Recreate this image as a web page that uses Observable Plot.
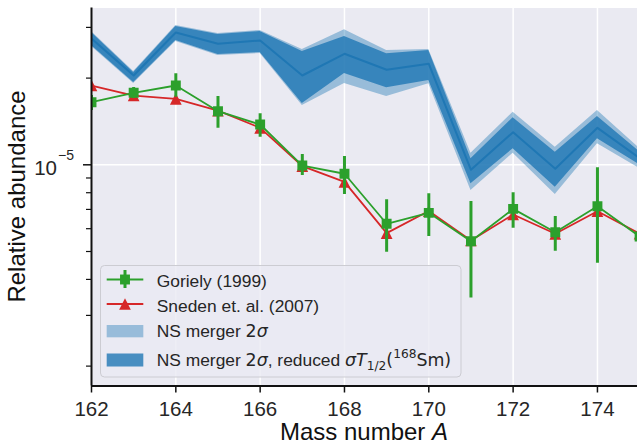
<!DOCTYPE html>
<html>
<head>
<meta charset="utf-8">
<script src="https://cdn.jsdelivr.net/npm/d3@7"></script>
<script src="https://cdn.jsdelivr.net/npm/@observablehq/plot@0.6"></script>
<style>
  body { margin: 0; background: #fff; }
  #chart { width: 637px; height: 445px; }
</style>
</head>
<body>
<div id="chart"></div>
<script>
// Mass numbers A
const massNumbers = [162, 163, 164, 165, 166, 167, 168, 169, 170, 171, 172, 173, 174, 175];

// NS merger prediction (units of 1e-5): central line, reduced-uncertainty band, full 2-sigma band
const nsCentre    = [2.745, 2.042, 2.880, 2.631, 2.702, 2.042, 2.429, 2.138, 2.242, 0.961, 1.298, 0.969, 1.344, 1.055];
const nsInnerHigh = [2.880, 2.092, 3.021, 2.835, 2.903, 2.474, 2.790, 2.429, 2.494, 1.049, 1.456, 1.106, 1.472, 1.110];
const nsInnerLow  = [2.596, 1.931, 2.702, 2.415, 2.455, 1.633, 2.075, 1.851, 1.962, 0.859, 1.137, 0.836, 1.231, 1.000];
const nsOuterHigh = [2.903, 2.108, 3.045, 2.858, 2.927, 2.514, 2.943, 2.494, 2.514, 1.097, 1.522, 1.151, 1.543, 1.140];
const nsOuterLow  = [2.575, 1.916, 2.680, 2.396, 2.435, 1.607, 1.916, 1.727, 1.911, 0.814, 1.097, 0.789, 1.183, 0.970];

// Goriely (1999) with error range (units of 1e-5)
const gorielyValue = [1.650, 1.778, 1.885, 1.535, 1.380, 0.994, 0.931, 0.624, 0.681, 0.543, 0.703, 0.583, 0.718, 0.564];
const gorielyHigh  = [1.740, 1.855, 2.070, 1.727, 1.503, 1.086, 1.069, 0.756, 0.793, 0.746, 0.799, 0.661, 0.976, 0.600];
const gorielyLow   = [1.543, 1.699, 1.717, 1.340, 1.247, 0.918, 0.789, 0.497, 0.564, 0.345, 0.602, 0.501, 0.455, 0.530];

// Sneden et al. (2007) (units of 1e-5)
const snedenValue = [1.885, 1.740, 1.695, 1.543, 1.344, 0.989, 0.872, 0.579, 0.691, 0.546, 0.672, 0.576, 0.690, 0.577];

// Axis ticks
const xTicks = [162, 164, 166, 168, 170, 172, 174];
const yMajorTicks = [1e-5];
const yMinorTicks = [2e-6, 3e-6, 4e-6, 5e-6, 6e-6, 7e-6, 8e-6, 9e-6, 2e-5, 3e-5];

const UNIT = 1e-5;
const FONT = "'Liberation Sans', Arial, sans-serif";
const MATH_FONT = "'DejaVu Sans', sans-serif";
const BLUE = "#1f77b4", GREEN = "#2ca02c", RED = "#d62728", INK = "#262626";
const X_DOMAIN = [162, 174.95];
const Y_DOMAIN = [1.706e-6, 3.503e-5];
const SQUARE_R = 5.6, TRIANGLE_R = 6.6;

const ns = massNumbers.map((A, i) => ({
  A,
  mid: nsCentre[i] * UNIT,
  innerLo: nsInnerLow[i] * UNIT, innerHi: nsInnerHigh[i] * UNIT,
  outerLo: nsOuterLow[i] * UNIT, outerHi: nsOuterHigh[i] * UNIT
}));
const goriely = massNumbers.map((A, i) => ({
  A, v: gorielyValue[i] * UNIT, lo: gorielyLow[i] * UNIT, hi: gorielyHigh[i] * UNIT
}));
const sneden = massNumbers.map((A, i) => ({A, v: snedenValue[i] * UNIT}));

// Upward triangle whose width equals its height, centred on its bounding box
const triangleUp = {
  draw(context, size) {
    const s = Math.sqrt(size) / 2;
    context.moveTo(0, -s);
    context.lineTo(s, s);
    context.lineTo(-s, s);
    context.closePath();
  }
};

const chart = Plot.plot({
  width: 637,
  height: 445,
  marginLeft: 91,
  marginRight: 0,
  marginTop: 7.5,
  marginBottom: 59.5,
  style: {fontFamily: FONT, background: "#fff"},
  x: {domain: X_DOMAIN},
  y: {type: "log", domain: Y_DOMAIN},
  marks: [
    Plot.frame({fill: "#EAEAF2", stroke: "none"}),
    Plot.gridX(xTicks, {stroke: "#fff", strokeOpacity: 1, strokeWidth: 1.5}),
    Plot.gridY(yMajorTicks, {stroke: "#fff", strokeOpacity: 1, strokeWidth: 1.5}),

    // NS merger bands and central line
    Plot.areaY(ns, {x: "A", y1: "outerLo", y2: "outerHi", fill: BLUE, fillOpacity: 0.4, clip: true}),
    Plot.areaY(ns, {x: "A", y1: "innerLo", y2: "innerHi", fill: BLUE, fillOpacity: 0.8, clip: true}),
    Plot.lineY(ns, {x: "A", y: "mid", stroke: BLUE, strokeWidth: 2, clip: true}),

    // Sneden et al.
    Plot.lineY(sneden, {x: "A", y: "v", stroke: RED, strokeWidth: 1.8, clip: true}),
    Plot.dot(sneden, {x: "A", y: "v", symbol: triangleUp, r: TRIANGLE_R, fill: RED, stroke: "none", clip: true}),

    // Goriely with error bars
    Plot.ruleX(goriely, {x: "A", y1: "lo", y2: "hi", stroke: GREEN, strokeWidth: 3, clip: true}),
    Plot.lineY(goriely, {x: "A", y: "v", stroke: GREEN, strokeWidth: 1.8, clip: true}),
    Plot.dot(goriely, {x: "A", y: "v", symbol: "square", r: SQUARE_R, fill: GREEN, stroke: "none", clip: true}),

    // Axes
    Plot.axisX(xTicks, {tickSize: 7, tickPadding: 8, fontSize: 20.5, stroke: "#111", strokeWidth: 1.5, fill: INK, label: null}),
    Plot.axisY(yMajorTicks, {tickSize: 8, strokeWidth: 1.5, stroke: "#111", tickFormat: () => "", label: null}),
    Plot.axisY(yMinorTicks, {tickSize: 5, strokeWidth: 1.2, stroke: "#111", tickFormat: () => "", label: null}),
    Plot.ruleX([X_DOMAIN[0]], {stroke: "#111", strokeWidth: 2}),
    Plot.ruleY([Y_DOMAIN[0]], {stroke: "#111", strokeWidth: 2})
  ]
});

document.getElementById("chart").appendChild(chart);

const svg = d3.select(chart);
const yScale = chart.scale("y");
const xScale = chart.scale("x");

function textGroup(size, fill) {
  return svg.append("g")
    .style("font-family", FONT)
    .style("font-size", size + "px")
    .attr("fill", fill)
    .attr("text-anchor", "start");
}
function mathSpan(parent, text, opts = {}) {
  const s = parent.append("tspan").style("font-family", MATH_FONT).text(text);
  if (opts.italic) s.style("font-style", "oblique");
  if (opts.size) s.style("font-size", opts.size + "px");
  if (opts.dy) s.attr("dy", opts.dy);
  return s;
}

// Power-of-ten tick label
const yMajor = yScale.apply(yMajorTicks[0]);
const tickLabel = textGroup(20.5, INK);
tickLabel.append("text").attr("x", 57).attr("y", yMajor + 10.7)
  .attr("text-anchor", "end").text("10");
tickLabel.append("text").attr("x", 58).attr("y", yMajor - 4.3)
  .style("font-size", "14px").text("\u22125");

// Axis titles
const xMid = (xScale.range[0] + xScale.range[1]) / 2;
const yMid = (yScale.range[0] + yScale.range[1]) / 2;
const titles = textGroup(24, "#111");
const xTitle = titles.append("text").attr("text-anchor", "middle").attr("x", xMid).attr("y", 440);
xTitle.append("tspan").text("Mass number ");
xTitle.append("tspan").attr("font-style", "italic").text("A");
titles.append("text").attr("text-anchor", "middle")
  .attr("transform", `translate(25,${yMid}) rotate(-90)`)
  .text("Relative abundance");

// Legend
const lg = textGroup(17.4, INK);
lg.append("rect").attr("x", 100.5).attr("y", 265.5).attr("width", 360.5).attr("height", 111.5)
  .attr("rx", 4).attr("fill", "#EAEAF2").attr("fill-opacity", 0.8)
  .attr("stroke", "#CCCCD2").attr("stroke-width", 1);

const swX0 = 106.7, swX1 = 143.3, swMid = (swX0 + swX1) / 2, textX = 156.7;

// Goriely entry
lg.append("line").attr("x1", swX0).attr("x2", swX1).attr("y1", 279.5).attr("y2", 279.5)
  .attr("stroke", GREEN).attr("stroke-width", 1.8);
lg.append("line").attr("x1", swMid).attr("x2", swMid).attr("y1", 270).attr("y2", 288)
  .attr("stroke", GREEN).attr("stroke-width", 3);
lg.append("path").attr("transform", `translate(${swMid},279.5)`)
  .attr("d", d3.symbol(d3.symbolSquare, Math.PI * SQUARE_R * SQUARE_R)()).attr("fill", GREEN);
lg.append("text").attr("x", textX).attr("y", 287.3).text("Goriely (1999)");

// Sneden entry
lg.append("line").attr("x1", swX0).attr("x2", swX1).attr("y1", 304).attr("y2", 304)
  .attr("stroke", RED).attr("stroke-width", 1.8);
lg.append("path").attr("transform", `translate(${swMid},304)`)
  .attr("d", d3.symbol(triangleUp, Math.PI * TRIANGLE_R * TRIANGLE_R)()).attr("fill", RED);
lg.append("text").attr("x", textX).attr("y", 311.7).text("Sneden et. al. (2007)");

// Band entries
lg.append("rect").attr("x", swX0).attr("y", 325).attr("width", swX1 - swX0).attr("height", 12.3)
  .attr("fill", BLUE).attr("fill-opacity", 0.4);
const t3 = lg.append("text").attr("x", textX).attr("y", 337.3);
t3.append("tspan").text("NS merger ");
mathSpan(t3, "2");
mathSpan(t3, "\u03c3", {italic: true});

lg.append("rect").attr("x", swX0).attr("y", 353.5).attr("width", swX1 - swX0).attr("height", 13)
  .attr("fill", BLUE).attr("fill-opacity", 0.8);
const t4 = lg.append("text").attr("x", textX).attr("y", 366);
t4.append("tspan").text("NS merger ");
mathSpan(t4, "2");
mathSpan(t4, "\u03c3", {italic: true});
t4.append("tspan").text(", reduced ");
mathSpan(t4, "\u03c3T", {italic: true});
mathSpan(t4, "1/2", {size: 12.2, dy: 4});
mathSpan(t4, "(", {dy: -4});
mathSpan(t4, "168", {size: 12.2, dy: -8});
mathSpan(t4, "Sm)", {dy: 8});
</script>
</body>
</html>
